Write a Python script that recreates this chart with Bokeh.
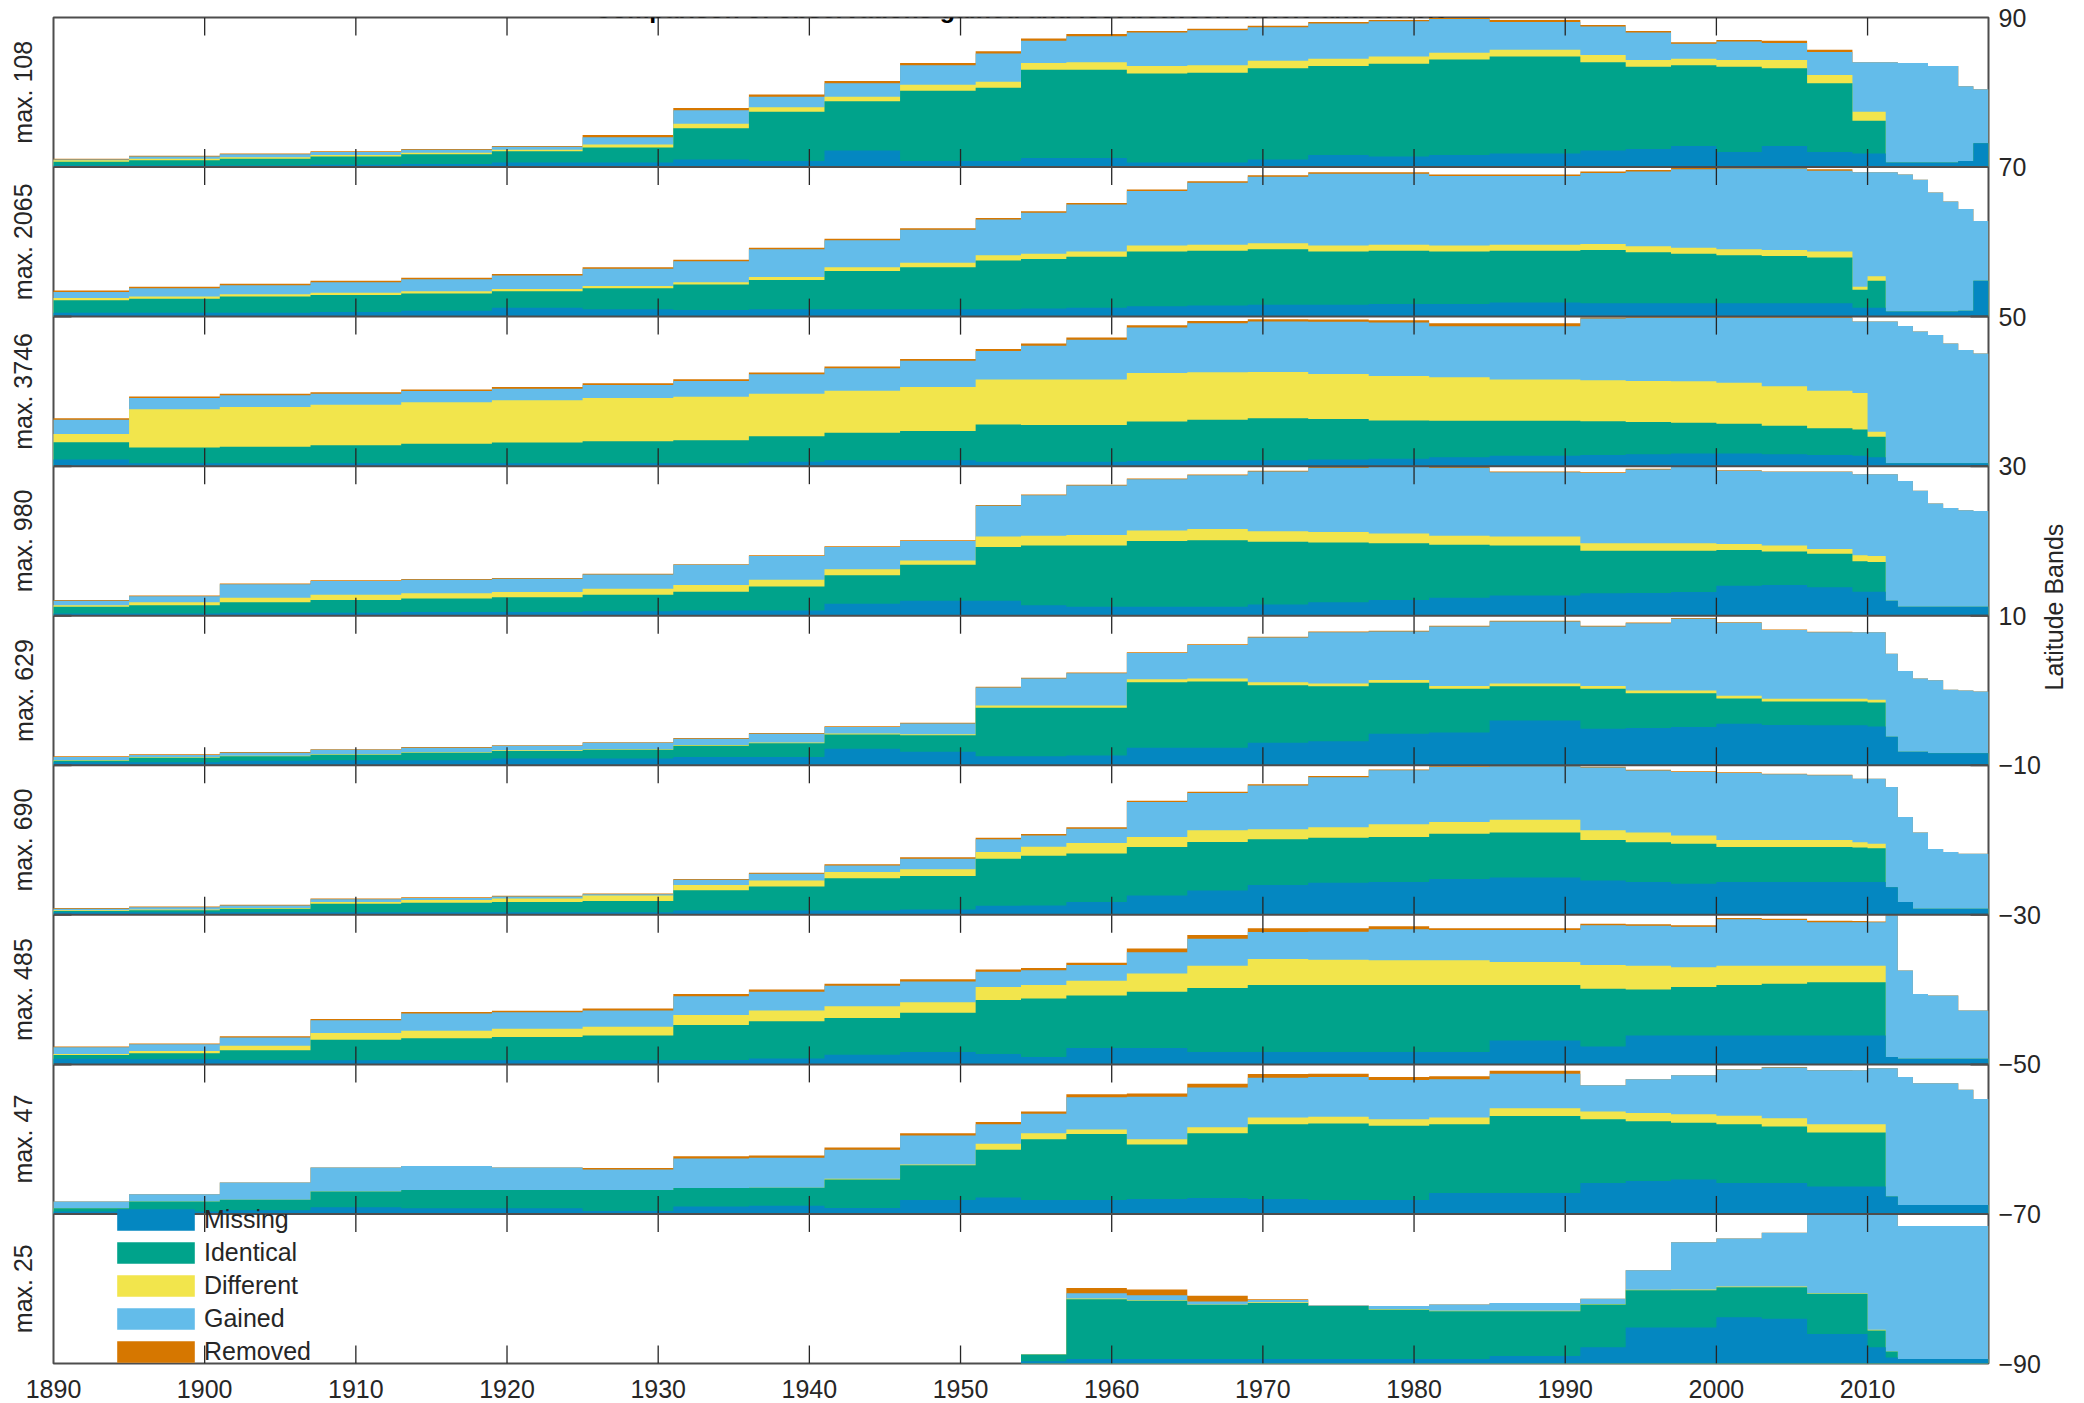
import numpy as np
from bokeh.plotting import figure
from bokeh.models import Label, Legend, LegendItem, FixedTicker, Range1d, Span, LinearAxis
from bokeh.embed import file_html
from bokeh.resources import INLINE

# ---------------- data (share of each band's maximum, %) ----------------
year_edges = [1889, 1895, 1901, 1907, 1913, 1919, 1925, 1931, 1936, 1941, 1946, 1951,
              1954, 1957, 1961, 1965, 1969, 1973, 1977, 1981, 1985, 1991, 1994, 1997,
              2000, 2003, 2006, 2009, 2010, 2011.2, 2012, 2013, 2014, 2015, 2016, 2017, 2018]

band_tops = [90, 70, 50, 30, 10, -10, -30, -50, -70]
band_max = [108, 2065, 3746, 980, 629, 690, 485, 47, 25]
decade_ticks = [1890, 1900, 1910, 1920, 1930, 1940, 1950, 1960, 1970, 1980, 1990, 2000, 2010]
lat_ticks = [90, 70, 50, 30, 10, -10, -30, -50, -70, -90]
series_names = ["Missing", "Identical", "Different", "Gained", "Removed"]
series_colors = ["#0487C1", "#00A38B", "#F2E54C", "#63BCEA", "#D67700"]

missing = [
    [1, 1, 1, 1.5, 2, 3, 3, 5, 4, 11, 4, 4, 6, 6, 3, 3, 5, 8, 7, 8, 9, 11, 12, 14, 10, 14, 10, 9, 9, 3, 3, 3, 3, 3, 4, 16],
    [2.5, 2.5, 2.5, 3, 4, 6, 5, 4.5, 5, 5, 5, 5, 5.5, 6, 7, 7.5, 8, 8, 8.5, 8.5, 9.5, 9, 9, 9, 9, 9, 9, 6, 6, 3.5, 3.5, 3.5, 3.5, 3.5, 4, 24],
    [4.5, 2, 2, 2, 2, 2, 2, 2, 3, 4, 4, 3, 3, 3, 3.5, 4, 4, 4.5, 5, 6, 7, 7.5, 8, 8.5, 8.5, 8, 7.5, 7, 6, 2, 2, 2, 2, 2, 2, 2],
    [1.5, 1.5, 2, 2, 2.5, 2.5, 3, 3.5, 3.5, 8, 10, 10, 7, 6, 6, 6, 7.5, 9, 10.5, 12, 13.5, 15, 15.2, 15.8, 20, 20.5, 19, 16, 16, 10, 6, 6, 6, 6, 6, 6],
    [2, 2, 3, 3.3, 3.3, 4.5, 4.5, 5.6, 5.6, 11, 9, 6, 6, 6.5, 11.8, 11.8, 15, 16, 21, 22, 30, 24.5, 25, 25.6, 27.8, 27, 26.7, 26.7, 26, 19, 9, 9, 8, 8, 8, 8],
    [1.8, 1.8, 1.8, 1.8, 1.8, 1.8, 1.8, 2.9, 2.9, 2.9, 3.5, 6, 6.2, 8.5, 13, 16.3, 20, 21.5, 22, 24, 25, 23, 22, 20.8, 22, 22, 22, 22, 22, 18.5, 8.5, 4, 4, 4, 4, 4],
    [3.8, 3.5, 2.7, 2.7, 2.7, 2.7, 2.7, 3, 4, 6.5, 8.3, 7, 5, 11, 11, 8.3, 8.3, 8.3, 8.3, 8.3, 16, 12, 19.4, 19.4, 19.4, 19.4, 19.4, 19.4, 19.4, 5, 3.8, 3.8, 3.8, 3.8, 3.8, 3.8],
    [1.6, 1.6, 2.5, 4.5, 3.8, 3.8, 2, 5, 5.5, 4, 9.4, 11, 9.4, 9.4, 10, 10.6, 10, 9.4, 9.4, 14, 14, 20.7, 22, 23, 20.7, 20.7, 18.4, 18.4, 18.4, 11.7, 6, 6, 6, 6, 6, 6],
    [0, 0, 0, 0, 0, 0, 0, 0, 0, 0, 0, 0, 1.5, 3, 3, 3, 3, 3, 3, 3, 5, 10.8, 24, 24, 31, 30, 19.7, 19.7, 10.8, 4, 3, 3, 3, 3, 3, 3],
]
identical = [
    [2.5, 3.5, 4.5, 5.5, 6.5, 7.5, 10, 21, 33, 33, 47, 49, 59, 59, 59.5, 60, 61, 59.5, 62, 64, 65, 59, 55, 54, 57, 52, 46, 22, 22, 0, 0, 0, 0, 0, 0, 0],
    [8.5, 9.5, 11, 11.5, 11.5, 11, 14, 17, 19.5, 25.5, 28, 32.5, 33, 34, 36.5, 36.5, 37, 35.5, 35.5, 35, 34.5, 35.5, 34, 33, 32, 31.5, 30.5, 12, 18, 0, 0, 0, 0, 0, 0, 0],
    [11.5, 10.5, 11, 12, 13, 13.8, 14.6, 15.3, 17, 18.4, 19.5, 24.8, 24.6, 24.6, 26.3, 27, 28, 27, 25.6, 24.4, 23.4, 22.5, 21.5, 20.5, 19.9, 19, 17.8, 17.5, 13.6, 0, 0, 0, 0, 0, 0, 0],
    [4.5, 5.5, 7, 8.5, 9, 9.8, 11, 12.5, 16, 19, 24, 36, 40, 41, 44, 44.5, 42, 40, 38, 35.5, 33.5, 28.5, 28.3, 27.7, 24, 22.5, 22.5, 20.5, 20, 0, 0, 0, 0, 0, 0, 0],
    [1, 3, 3, 3.7, 5, 5.1, 5.8, 7.4, 9.2, 9.5, 11, 32.5, 32.5, 32, 43.7, 44.2, 38.5, 36.8, 34.2, 29.2, 22.8, 26.7, 23.2, 22.6, 16.9, 15.7, 16, 16, 16, 0, 0, 0, 0, 0, 0, 0],
    [0.7, 1.2, 2.2, 5.6, 6.2, 6.7, 7.5, 13.6, 16.1, 21.6, 22.5, 31.5, 33.3, 32.5, 32.3, 32.4, 30.5, 30, 30, 30.2, 30, 27, 26.5, 26.7, 23.3, 23.3, 23.3, 23, 22.5, 0, 0, 0, 0, 0, 0, 0],
    [2.5, 4, 6.8, 13.8, 14.8, 15.6, 16.6, 23.3, 24.8, 24.5, 26.2, 36, 39, 35, 37.5, 42.7, 44.7, 44.7, 44.7, 44.7, 37, 38.5, 30.6, 32.4, 33.6, 34.6, 35.6, 35.6, 35.6, 0, 0, 0, 0, 0, 0, 0],
    [2.2, 6.7, 7, 10.5, 12.2, 12.2, 14, 12.3, 12, 19, 23.1, 32, 40.6, 44.1, 36.5, 43.4, 50, 51.1, 49.6, 46, 51.5, 42.7, 40, 38, 39.3, 37.8, 36, 36, 36, 0, 0, 0, 0, 0, 0, 0],
    [0, 0, 0, 0, 0, 0, 0, 0, 0, 0, 0, 0, 4.5, 40, 39, 36.2, 37.5, 35.5, 33, 32, 30, 28.7, 25, 25, 20, 21, 26.9, 26.9, 11.2, 4, 0, 0, 0, 0, 0, 0],
]
different = [
    [1, 1, 1, 1, 1, 1, 2, 3, 3, 3, 4, 4, 4.5, 5, 5, 5, 5, 5, 5, 4.5, 4.5, 5, 4.5, 4.5, 4.5, 5.5, 5.5, 6, 6, 0, 0, 0, 0, 0, 0, 0],
    [1.5, 1.5, 1.5, 1.5, 1.5, 1.5, 1.5, 1.5, 2, 2.5, 3, 3.5, 3.5, 3.5, 4, 4, 4, 4, 4, 4, 4, 4, 4, 4, 4, 4, 4, 2, 3, 0, 0, 0, 0, 0, 0, 0],
    [5.5, 25.5, 26.5, 27, 27.8, 28.2, 28.9, 29.1, 28.5, 28.1, 29.5, 30.2, 30.4, 30.4, 32.5, 31.8, 31, 30.1, 29.7, 29.1, 27.6, 27.5, 27.5, 27.7, 27.4, 26.5, 25.2, 24.5, 3.4, 0, 0, 0, 0, 0, 0, 0],
    [1, 2, 3, 3.5, 3.5, 3.5, 4, 4.5, 4.5, 4, 3, 7, 6.5, 7, 7, 7.5, 7, 7, 6.5, 6, 6, 4.9, 4.9, 4.9, 4, 4, 3.1, 4, 4, 0, 0, 0, 0, 0, 0, 0],
    [0.3, 0.3, 0.4, 0.4, 0.4, 0.4, 0.4, 0.5, 0.5, 0.8, 0.8, 1.5, 1.5, 1.5, 2, 2, 2, 1.8, 1.8, 1.8, 1.8, 1.8, 1.8, 1.8, 1.8, 1.8, 1.8, 1.8, 1.8, 0, 0, 0, 0, 0, 0, 0],
    [0.5, 0.6, 0.6, 1.1, 2, 2.5, 3.7, 3.5, 4, 4.1, 4.5, 4.5, 6, 7, 6.7, 7.8, 6.8, 7, 8.5, 7.8, 8.5, 6.5, 6.5, 5.5, 4.7, 4.7, 4.7, 3.5, 3, 0, 0, 0, 0, 0, 0, 0],
    [0.7, 1.5, 3, 4.5, 5, 5.5, 5.9, 6.7, 7.2, 7.8, 7, 8.8, 9, 10, 12.2, 15, 17.5, 17, 16.6, 16.6, 15.4, 16, 16, 13.2, 13, 12, 11, 11, 11, 0, 0, 0, 0, 0, 0, 0],
    [0, 0, 0, 0, 0, 0, 0, 0, 0, 0.5, 0.5, 4, 4, 3, 3.5, 4, 4.5, 4.5, 4.4, 4.5, 5.1, 5.1, 5.5, 5.7, 5.6, 5.5, 5.6, 5.6, 5.6, 0, 0, 0, 0, 0, 0, 0],
    [0, 0, 0, 0, 0, 0, 0, 0, 0, 0, 0, 0, 0, 0.5, 0.3, 0.3, 0.5, 0, 0.2, 0.3, 0.3, 0.3, 0.3, 0.5, 0.5, 0.5, 0.4, 0.4, 0.5, 0, 0, 0, 0, 0, 0, 0],
]
gained = [
    [0.5, 1.5, 2, 2, 2, 2, 5, 9, 7, 9, 13, 19, 15, 17.5, 22.5, 23.5, 22.5, 23.5, 23.5, 22.5, 18.5, 19, 18.5, 10, 12.5, 11.5, 15.5, 33, 33, 67, 66.5, 66.5, 64.5, 64.5, 50, 36],
    [4, 5.5, 6, 7, 8, 9, 11.5, 14, 18.5, 18, 22, 24, 27.5, 31.5, 36.5, 41.5, 44.5, 48, 47.5, 46.5, 46, 47.5, 50, 52.5, 54, 54.5, 54, 76.5, 69.5, 93, 91.5, 88, 79.5, 73.5, 68, 40],
    [9.5, 7.5, 8, 7.5, 7.5, 7.8, 8.8, 10.6, 13, 15, 17.5, 19, 22.5, 26.5, 30.5, 32.7, 33.7, 34.9, 35.7, 34, 35.5, 41.2, 42, 42.3, 43.2, 45.5, 48.5, 47.7, 73.7, 94.7, 91.7, 88, 85.7, 80, 75.7, 73.4],
    [3, 4, 9, 9.3, 9, 9, 9.5, 13.5, 16, 15, 13, 20.5, 27, 33, 34.3, 36, 40, 43, 44.5, 45.5, 43, 47.1, 49.4, 51.1, 49, 49.2, 51.6, 54.1, 54.6, 84.6, 84, 77.5, 69, 66, 64.5, 64],
    [2.2, 1.6, 2, 2.9, 3.1, 3, 4.3, 4.3, 5.7, 4.3, 7.2, 12, 18, 21.5, 17.5, 22.5, 30, 34.4, 32.5, 39.8, 41.6, 39.8, 45, 48, 48.8, 46, 44.5, 44.5, 45.2, 55.6, 54, 49, 48.8, 42.5, 42, 41.4],
    [1, 1.4, 1.6, 2, 1.3, 1.3, 0.8, 3.5, 4.5, 4.4, 7, 8.5, 7.5, 9.5, 23.5, 25, 29.2, 33.5, 36.1, 36.9, 35.8, 42, 41.5, 42.5, 44.9, 44, 43.3, 42.5, 43.5, 67, 56.9, 51, 40, 38, 36.8, 36.8],
    [4.5, 4.5, 5.5, 8.5, 11.5, 11, 10.8, 12.5, 12.5, 13.7, 14, 10.2, 10, 10.5, 14.3, 18, 18, 18.7, 20.7, 20.2, 21.4, 26.5, 26.7, 27, 31.1, 30.6, 29, 29, 29, 94.5, 58.9, 43.2, 42.2, 42.2, 32.2, 32.2],
    [4.5, 4.9, 11.5, 16, 16, 15, 13.7, 19.7, 20, 19.5, 19.5, 13, 13, 21.5, 28.4, 26.5, 26.5, 26.5, 26.1, 25.5, 23.2, 17.5, 22.5, 26.1, 30.9, 34, 36, 36, 37.5, 85.8, 85.5, 81.4, 81.4, 81.4, 77, 70.9],
    [0, 0, 0, 0, 0, 0, 0, 0, 0, 0, 0, 0, 0, 3.5, 3.4, 2, 1.5, 0.2, 2.3, 4.2, 5.2, 3.5, 13.1, 31.5, 32.1, 35.9, 52.3, 52.3, 76.8, 91.3, 89, 89, 89, 89, 89, 89],
]
removed = [
    [0.5, 0.5, 0.5, 0.5, 0.5, 0.5, 1.5, 1.5, 1.5, 1.5, 1.5, 1.5, 1.5, 1.5, 1, 1, 1, 1, 0.8, 0.7, 1.3, 1, 1, 1, 1, 1.5, 1.5, 0, 0, 0, 0, 0, 0, 0, 0, 0],
    [1, 1, 1, 1, 1, 1, 1, 1, 1, 1, 1, 1, 1, 1, 1, 1, 1, 1, 1, 1, 1, 1, 1, 1, 0.8, 0.8, 1, 0, 0, 0, 0, 0, 0, 0, 0, 0],
    [1, 1, 1, 1, 1, 1.2, 1.2, 1.2, 1.2, 1.2, 1.2, 1.3, 1.5, 1.5, 1.5, 1.5, 1.5, 1.5, 1.5, 2, 2, 0.7, 0.6, 0.6, 0.6, 0.6, 0.6, 0, 0, 0, 0, 0, 0, 0, 0, 0],
    [0.5, 0.5, 0.5, 0.5, 0.5, 0.5, 0.5, 0.5, 0.5, 0.5, 0.5, 0.5, 0.5, 0.5, 0.5, 0.5, 0.5, 0.5, 0.5, 0.5, 0.5, 0.5, 0.4, 0.5, 0.3, 0.3, 0.3, 0, 0, 0, 0, 0, 0, 0, 0, 0],
    [0.5, 0.4, 0.4, 0.4, 0.4, 0.4, 0.4, 0.5, 0.5, 0.5, 0.5, 0.5, 0.5, 0.5, 0.5, 0.5, 0.5, 0.5, 0.5, 0.5, 0.5, 0.5, 0.5, 0.5, 0.3, 0.3, 0.3, 0, 0, 0, 0, 0, 0, 0, 0, 0],
    [0.5, 0.5, 0.5, 0.5, 0.5, 0.5, 0.5, 0.5, 0.7, 0.8, 1, 1, 1, 1, 0.8, 0.8, 0.8, 0.8, 0.6, 0.5, 0.4, 0.5, 0.5, 0.5, 0.4, 0.4, 0.4, 0, 0, 0, 0, 0, 0, 0, 0, 0],
    [0.5, 0.5, 0.8, 0.8, 1, 1, 1.3, 1.5, 1.5, 1.5, 1.5, 1.5, 1.5, 1.5, 2.5, 2.5, 2.5, 2.3, 2, 1.2, 1.2, 1, 1, 1, 0.7, 0.8, 1, 0.8, 0.5, 0, 0, 0, 0, 0, 0, 0],
    [0, 0, 0, 0, 0, 0, 1, 1.5, 1.5, 1.5, 1.5, 1.5, 1.5, 2, 2.1, 2.5, 2.5, 2.2, 2, 2, 2, 0, 0, 0, 0.3, 0.3, 0.3, 0, 0, 0, 0, 0, 0, 0, 0, 0],
    [0, 0, 0, 0, 0, 0, 0, 0, 0, 0, 0, 0, 0, 3.5, 3.8, 3.8, 0.5, 0, 0, 0, 0, 0, 0, 0, 0, 0, 0, 0, 0, 0, 0, 0, 0, 0, 0, 0],
]
series = [missing, identical, different, gained, removed]

# ---------------- figure ----------------
FONT = "Liberation Sans"
TXT = "#262626"
FRAME = "#4d4d4d"
W, H = 2084, 1403
BL, BR, BT, BB = 53, 94, 17, 40

p = figure(width=W, height=H, x_range=Range1d(1890, 2018), y_range=Range1d(-90, 90),
           y_axis_location="right", output_backend="svg", toolbar_location=None, title=None,
           min_border_left=BL, min_border_right=BR, min_border_top=BT, min_border_bottom=BB,
           background_fill_color="white", border_fill_color="white",
           outline_line_color=FRAME, outline_line_width=2)
p.xgrid.grid_line_color = None
p.ygrid.grid_line_color = None


def style_axis(ax, ticks, standoff):
    ax.ticker = FixedTicker(ticks=ticks)
    ax.major_tick_in = 0
    ax.major_tick_out = 0
    ax.minor_tick_in = 0
    ax.minor_tick_out = 0
    ax.axis_line_color = None
    ax.major_label_standoff = standoff
    ax.major_label_text_font_size = "25px"
    ax.major_label_text_font = FONT
    ax.major_label_text_color = TXT
    ax.major_label_text_line_height = 1.0


style_axis(p.xaxis[0], decade_ticks, 16)
style_axis(p.yaxis[0], lat_ticks, 10)

# right-hand title, reading upwards
title_ax = LinearAxis()
style_axis(title_ax, [0], 10)
title_ax.major_label_overrides = {0: "Latitude Bands"}
title_ax.major_label_orientation = np.pi / 2
p.add_layout(title_ax, "right")

# band maxima written on the left, one per band
band_mid = [t - 10 for t in band_tops]
left_ax = LinearAxis()
style_axis(left_ax, band_mid, 16)
left_ax.major_label_overrides = {m: f"max. {mx}" for m, mx in zip(band_mid, band_max)}
left_ax.major_label_orientation = "vertical"
p.add_layout(left_ax, "left")

# step-shaped x coordinates from the bin edges
edges = np.array(year_edges, dtype=float)
xs = np.repeat(edges, 2)[1:-1]

legend_renderers = [None] * 5
for k in range(9):
    base = band_tops[k] - 20
    scale = 20.0 / 100.0
    cum = np.cumsum(np.array([np.array(s[k], dtype=float) for s in series]), axis=0)
    # draw from top layer down, each from the band base, so no seams appear
    for si in range(4, -1, -1):
        top = base + np.repeat(cum[si], 2) * scale
        r = p.varea(x=xs, y1=np.full_like(top, base), y2=top,
                    fill_color=series_colors[si], fill_alpha=1.0)
        if k == 8:
            legend_renderers[si] = r

# inward ticks on every panel (top and bottom), and on left/right at band edges
px_per_y = (H - BT - BB) / 180.0
px_per_x = (W - BL - BR) / 128.0
tick_px = 18
dy = tick_px / px_per_y
dx = tick_px / px_per_x
x0, y0, x1, y1 = [], [], [], []
for b in lat_ticks:
    for t in decade_ticks[1:]:
        if b != -90:
            x0.append(t); y0.append(b); x1.append(t); y1.append(b - dy)
        if b != 90:
            x0.append(t); y0.append(b); x1.append(t); y1.append(b + dy)
p.segment(x0=x0, y0=y0, x1=x1, y1=y1, line_color=TXT, line_width=1.3)

lx0, ly0, lx1, ly1 = [], [], [], []
for b in lat_ticks[1:-1]:
    lx0 += [1890, 2018]; lx1 += [1890 + dx, 2018 - dx]; ly0 += [b, b]; ly1 += [b, b]
p.segment(x0=lx0, y0=ly0, x1=lx1, y1=ly1, line_color=FRAME, line_width=2)

for b in lat_ticks[1:-1]:
    p.add_layout(Span(location=b, dimension="width", line_color=FRAME, line_width=2))

# title (its upper half runs off the top of the page, as in the original)
p.add_layout(Label(x=1954, y=90 + 9 / px_per_y,
                   text="Comparison of observations gained and lost between 4.0.0.0 and 5.0.0.0",
                   text_align="center", text_baseline="alphabetic", text_font_size="25px",
                   text_font=FONT, text_font_style="bold", text_color="black"))

legend = Legend(items=[LegendItem(label=series_names[i], renderers=[legend_renderers[i]]) for i in range(5)],
                location=(54, -3), orientation="vertical", glyph_width=97, glyph_height=27,
                label_text_font_size="25px", label_text_font=FONT, label_text_color=TXT,
                label_standoff=0, label_height=27, label_text_line_height=1.0, spacing=4,
                padding=0, margin=0, border_line_alpha=0, background_fill_alpha=0)
p.add_layout(legend)

open("out.html", "w").write(file_html(p, INLINE))
